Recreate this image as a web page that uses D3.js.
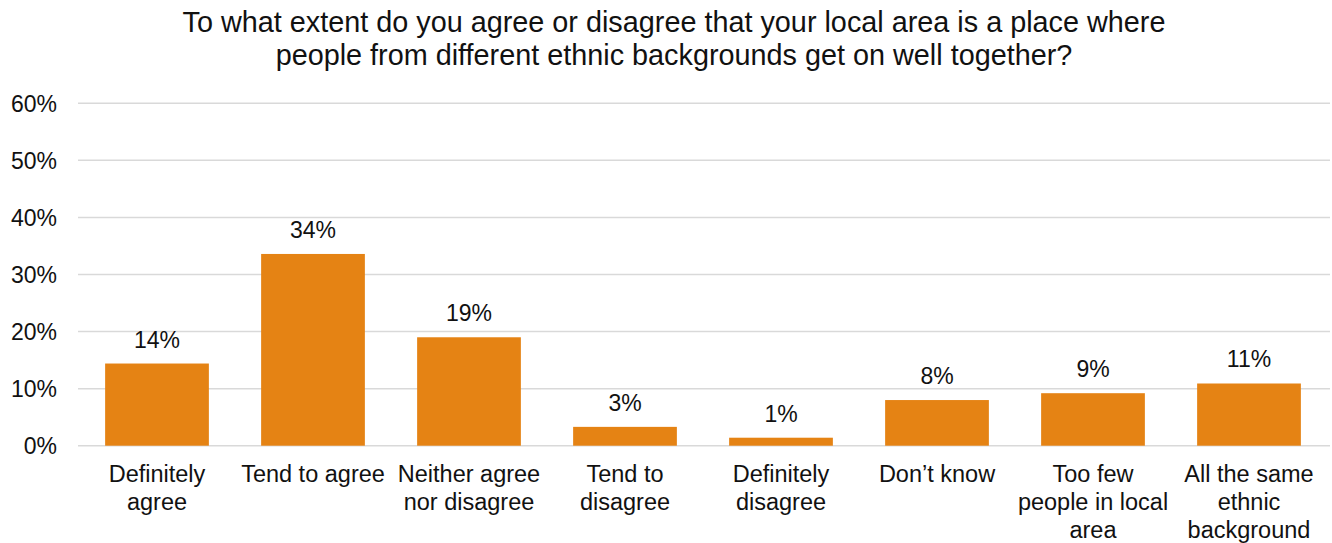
<!DOCTYPE html>
<html>
<head>
<meta charset="utf-8">
<script src="https://cdn.jsdelivr.net/npm/d3@7"></script>
<style>
  html, body { margin: 0; padding: 0; background: #ffffff; }
  svg text { font-family: "Liberation Sans", Arial, sans-serif; fill: #111111; }
</style>
</head>
<body>
<svg id="chart" width="1332" height="543"></svg>
<script>
// Survey responses: share of respondents per answer
const categories = [
  "Definitely agree", "Tend to agree", "Neither agree nor disagree", "Tend to disagree",
  "Definitely disagree", "Don’t know", "Too few people in local area", "All the same ethnic background"
];
const categoryLines = [
  ["Definitely", "agree"],
  ["Tend to agree"],
  ["Neither agree", "nor disagree"],
  ["Tend to", "disagree"],
  ["Definitely", "disagree"],
  ["Don’t know"],
  ["Too few", "people in local", "area"],
  ["All the same", "ethnic", "background"]
];
const values = [14.4, 33.6, 19.0, 3.3, 1.4, 8.0, 9.2, 10.9];
const yTicks = [0, 10, 20, 30, 40, 50, 60];
const titleLines = [
  "To what extent do you agree or disagree that your local area is a place where",
  "people from different ethnic backgrounds get on well together?"
];

const svg = d3.select("#chart");
const plot = { left: 79, right: 1327, top: 103.3, bottom: 445.7 };

const x = d3.scaleBand()
  .domain(categories)
  .range([plot.left, plot.right])
  .paddingInner(0.335)
  .paddingOuter(0.1675);

const y = d3.scaleLinear()
  .domain([0, 60])
  .range([plot.bottom, plot.top]);

// Title
svg.append("g").selectAll("text")
  .data(titleLines)
  .join("text")
  .attr("x", 674)
  .attr("y", (d, i) => 32 + i * 33)
  .attr("text-anchor", "middle")
  .style("font-size", "28.8px")
  .text(d => d);

// Horizontal gridlines
svg.append("g").selectAll("line")
  .data(yTicks)
  .join("line")
  .attr("x1", plot.left - 1)
  .attr("x2", plot.right + 3)
  .attr("y1", d => y(d))
  .attr("y2", d => y(d))
  .attr("stroke", "#d9d9d9")
  .attr("stroke-width", 1.5);

// Y axis tick labels
const yAxis = d3.axisLeft(y)
  .tickValues(yTicks)
  .tickSize(0)
  .tickPadding(0)
  .tickFormat(d => d + "%");
const yAxisG = svg.append("g")
  .attr("transform", `translate(57,0)`)
  .call(yAxis);
yAxisG.select(".domain").remove();
yAxisG.selectAll("text")
  .attr("dy", "0.35em")
  .style("font-size", "23px")
  .style("font-family", "\"Liberation Sans\", Arial, sans-serif")
  .attr("fill", "#111111");

// Bars
svg.append("g").selectAll("rect")
  .data(values)
  .join("rect")
  .attr("x", (d, i) => x(categories[i]))
  .attr("width", x.bandwidth())
  .attr("y", d => y(d))
  .attr("height", d => y(0) - y(d))
  .attr("fill", "#E58314");

// Value labels
svg.append("g").selectAll("text")
  .data(values)
  .join("text")
  .attr("x", (d, i) => x(categories[i]) + x.bandwidth() / 2)
  .attr("y", d => y(d) - 16)
  .attr("text-anchor", "middle")
  .style("font-size", "23px")
  .text(d => Math.round(d) + "%");

// Category labels
const catG = svg.append("g").selectAll("text")
  .data(categories)
  .join("text")
  .attr("x", d => x(d) + x.bandwidth() / 2)
  .attr("y", 482)
  .attr("text-anchor", "middle")
  .style("font-size", "23.5px");
catG.selectAll("tspan")
  .data((d, i) => categoryLines[i])
  .join("tspan")
  .attr("x", function () { return d3.select(this.parentNode).attr("x"); })
  .attr("y", (d, j) => 482 + j * 28)
  .text(d => d);
</script>
</body>
</html>
